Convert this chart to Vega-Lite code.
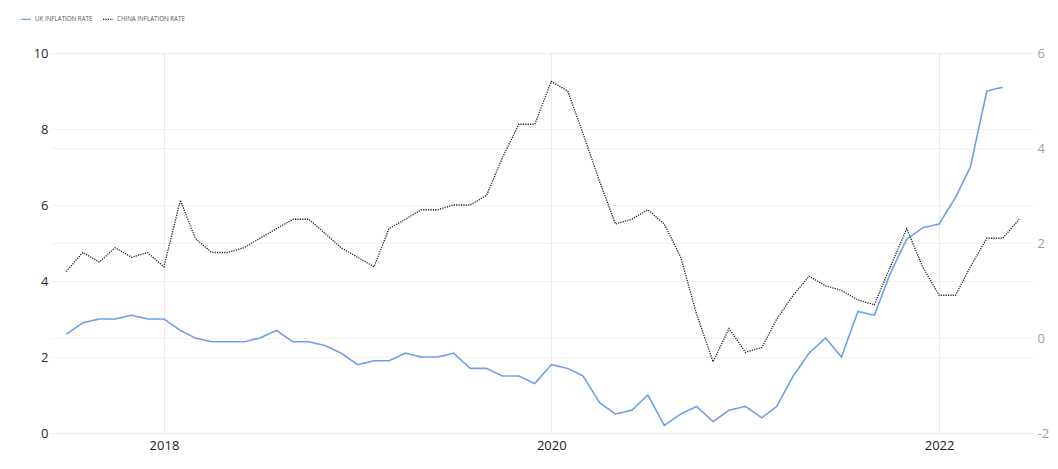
{
  "$schema": "https://vega.github.io/schema/vega-lite/v6.json",
  "width": 981,
  "height": 380,
  "autosize": {"type": "none"},
  "padding": {"left": 52, "top": 53, "right": 25, "bottom": 36},
  "background": "white",
  "config": {
    "view": {"stroke": null},
    "font": "Open Sans",
    "axis": {"domain": false, "ticks": false, "title": null, "labelFontSize": 13, "labelFont": "Open Sans"}
  },
  "data": {
    "values": [
      {"s": "UK", "d": "2017-07-01", "v": 2.6}, {"s": "UK", "d": "2017-08-01", "v": 2.9}, {"s": "UK", "d": "2017-09-01", "v": 3.0},
      {"s": "UK", "d": "2017-10-01", "v": 3.0}, {"s": "UK", "d": "2017-11-01", "v": 3.1}, {"s": "UK", "d": "2017-12-01", "v": 3.0},
      {"s": "UK", "d": "2018-01-01", "v": 3.0}, {"s": "UK", "d": "2018-02-01", "v": 2.7}, {"s": "UK", "d": "2018-03-01", "v": 2.5},
      {"s": "UK", "d": "2018-04-01", "v": 2.4}, {"s": "UK", "d": "2018-05-01", "v": 2.4}, {"s": "UK", "d": "2018-06-01", "v": 2.4},
      {"s": "UK", "d": "2018-07-01", "v": 2.5}, {"s": "UK", "d": "2018-08-01", "v": 2.7}, {"s": "UK", "d": "2018-09-01", "v": 2.4},
      {"s": "UK", "d": "2018-10-01", "v": 2.4}, {"s": "UK", "d": "2018-11-01", "v": 2.3}, {"s": "UK", "d": "2018-12-01", "v": 2.1},
      {"s": "UK", "d": "2019-01-01", "v": 1.8}, {"s": "UK", "d": "2019-02-01", "v": 1.9}, {"s": "UK", "d": "2019-03-01", "v": 1.9},
      {"s": "UK", "d": "2019-04-01", "v": 2.1}, {"s": "UK", "d": "2019-05-01", "v": 2.0}, {"s": "UK", "d": "2019-06-01", "v": 2.0},
      {"s": "UK", "d": "2019-07-01", "v": 2.1}, {"s": "UK", "d": "2019-08-01", "v": 1.7}, {"s": "UK", "d": "2019-09-01", "v": 1.7},
      {"s": "UK", "d": "2019-10-01", "v": 1.5}, {"s": "UK", "d": "2019-11-01", "v": 1.5}, {"s": "UK", "d": "2019-12-01", "v": 1.3},
      {"s": "UK", "d": "2020-01-01", "v": 1.8}, {"s": "UK", "d": "2020-02-01", "v": 1.7}, {"s": "UK", "d": "2020-03-01", "v": 1.5},
      {"s": "UK", "d": "2020-04-01", "v": 0.8}, {"s": "UK", "d": "2020-05-01", "v": 0.5}, {"s": "UK", "d": "2020-06-01", "v": 0.6},
      {"s": "UK", "d": "2020-07-01", "v": 1.0}, {"s": "UK", "d": "2020-08-01", "v": 0.2}, {"s": "UK", "d": "2020-09-01", "v": 0.5},
      {"s": "UK", "d": "2020-10-01", "v": 0.7}, {"s": "UK", "d": "2020-11-01", "v": 0.3}, {"s": "UK", "d": "2020-12-01", "v": 0.6},
      {"s": "UK", "d": "2021-01-01", "v": 0.7}, {"s": "UK", "d": "2021-02-01", "v": 0.4}, {"s": "UK", "d": "2021-03-01", "v": 0.7},
      {"s": "UK", "d": "2021-04-01", "v": 1.5}, {"s": "UK", "d": "2021-05-01", "v": 2.1}, {"s": "UK", "d": "2021-06-01", "v": 2.5},
      {"s": "UK", "d": "2021-07-01", "v": 2.0}, {"s": "UK", "d": "2021-08-01", "v": 3.2}, {"s": "UK", "d": "2021-09-01", "v": 3.1},
      {"s": "UK", "d": "2021-10-01", "v": 4.2}, {"s": "UK", "d": "2021-11-01", "v": 5.1}, {"s": "UK", "d": "2021-12-01", "v": 5.4},
      {"s": "UK", "d": "2022-01-01", "v": 5.5}, {"s": "UK", "d": "2022-02-01", "v": 6.2}, {"s": "UK", "d": "2022-03-01", "v": 7.0},
      {"s": "UK", "d": "2022-04-01", "v": 9.0}, {"s": "UK", "d": "2022-05-01", "v": 9.1},
      {"s": "CHINA", "d": "2017-07-01", "v": 1.4}, {"s": "CHINA", "d": "2017-08-01", "v": 1.8}, {"s": "CHINA", "d": "2017-09-01", "v": 1.6},
      {"s": "CHINA", "d": "2017-10-01", "v": 1.9}, {"s": "CHINA", "d": "2017-11-01", "v": 1.7}, {"s": "CHINA", "d": "2017-12-01", "v": 1.8},
      {"s": "CHINA", "d": "2018-01-01", "v": 1.5}, {"s": "CHINA", "d": "2018-02-01", "v": 2.9}, {"s": "CHINA", "d": "2018-03-01", "v": 2.1},
      {"s": "CHINA", "d": "2018-04-01", "v": 1.8}, {"s": "CHINA", "d": "2018-05-01", "v": 1.8}, {"s": "CHINA", "d": "2018-06-01", "v": 1.9},
      {"s": "CHINA", "d": "2018-07-01", "v": 2.1}, {"s": "CHINA", "d": "2018-08-01", "v": 2.3}, {"s": "CHINA", "d": "2018-09-01", "v": 2.5},
      {"s": "CHINA", "d": "2018-10-01", "v": 2.5}, {"s": "CHINA", "d": "2018-11-01", "v": 2.2}, {"s": "CHINA", "d": "2018-12-01", "v": 1.9},
      {"s": "CHINA", "d": "2019-01-01", "v": 1.7}, {"s": "CHINA", "d": "2019-02-01", "v": 1.5}, {"s": "CHINA", "d": "2019-03-01", "v": 2.3},
      {"s": "CHINA", "d": "2019-04-01", "v": 2.5}, {"s": "CHINA", "d": "2019-05-01", "v": 2.7}, {"s": "CHINA", "d": "2019-06-01", "v": 2.7},
      {"s": "CHINA", "d": "2019-07-01", "v": 2.8}, {"s": "CHINA", "d": "2019-08-01", "v": 2.8}, {"s": "CHINA", "d": "2019-09-01", "v": 3.0},
      {"s": "CHINA", "d": "2019-10-01", "v": 3.8}, {"s": "CHINA", "d": "2019-11-01", "v": 4.5}, {"s": "CHINA", "d": "2019-12-01", "v": 4.5},
      {"s": "CHINA", "d": "2020-01-01", "v": 5.4}, {"s": "CHINA", "d": "2020-02-01", "v": 5.2}, {"s": "CHINA", "d": "2020-03-01", "v": 4.3},
      {"s": "CHINA", "d": "2020-04-01", "v": 3.3}, {"s": "CHINA", "d": "2020-05-01", "v": 2.4}, {"s": "CHINA", "d": "2020-06-01", "v": 2.5},
      {"s": "CHINA", "d": "2020-07-01", "v": 2.7}, {"s": "CHINA", "d": "2020-08-01", "v": 2.4}, {"s": "CHINA", "d": "2020-09-01", "v": 1.7},
      {"s": "CHINA", "d": "2020-10-01", "v": 0.5}, {"s": "CHINA", "d": "2020-11-01", "v": -0.5}, {"s": "CHINA", "d": "2020-12-01", "v": 0.2},
      {"s": "CHINA", "d": "2021-01-01", "v": -0.3}, {"s": "CHINA", "d": "2021-02-01", "v": -0.2}, {"s": "CHINA", "d": "2021-03-01", "v": 0.4},
      {"s": "CHINA", "d": "2021-04-01", "v": 0.9}, {"s": "CHINA", "d": "2021-05-01", "v": 1.3}, {"s": "CHINA", "d": "2021-06-01", "v": 1.1},
      {"s": "CHINA", "d": "2021-07-01", "v": 1.0}, {"s": "CHINA", "d": "2021-08-01", "v": 0.8}, {"s": "CHINA", "d": "2021-09-01", "v": 0.7},
      {"s": "CHINA", "d": "2021-10-01", "v": 1.5}, {"s": "CHINA", "d": "2021-11-01", "v": 2.3}, {"s": "CHINA", "d": "2021-12-01", "v": 1.5},
      {"s": "CHINA", "d": "2022-01-01", "v": 0.9}, {"s": "CHINA", "d": "2022-02-01", "v": 0.9}, {"s": "CHINA", "d": "2022-03-01", "v": 1.5},
      {"s": "CHINA", "d": "2022-04-01", "v": 2.1}, {"s": "CHINA", "d": "2022-05-01", "v": 2.1}, {"s": "CHINA", "d": "2022-06-01", "v": 2.5}
    ]
  },
  "encoding": {
    "x": {
      "field": "d",
      "type": "temporal",
      "scale": {
        "type": "utc",
        "domain": [
          {"year": 2017, "month": 6, "date": 4, "utc": true},
          {"year": 2022, "month": 6, "date": 27, "utc": true}
        ]
      },
      "axis": {
        "values": [
          {"year": 2018, "month": 1, "date": 1, "utc": true},
          {"year": 2020, "month": 1, "date": 1, "utc": true},
          {"year": 2022, "month": 1, "date": 1, "utc": true}
        ],
        "format": "%Y",
        "labelColor": "#1a1a1a",
        "labelPadding": 6,
        "grid": true,
        "gridColor": "#ececec",
        "gridWidth": 1
      }
    },
    "color": {
      "field": "s",
      "type": "nominal",
      "scale": {"domain": ["UK", "CHINA"], "range": ["#6f9fec", "#1a1a1a"]},
      "legend": {
        "title": null,
        "orient": "none",
        "legendX": -32,
        "legendY": -40,
        "direction": "horizontal",
        "symbolType": "stroke",
        "symbolSize": 100,
        "symbolStrokeWidth": 1.3,
        "labelFontSize": 6.2,
        "labelColor": "#555555",
        "labelExpr": "datum.label + ' INFLATION RATE'",
        "columnPadding": 7,
        "labelOffset": 3
      }
    },
    "strokeDash": {
      "field": "s",
      "type": "nominal",
      "scale": {"domain": ["UK", "CHINA"], "range": [[1, 0], [1.2, 1.2]]},
      "legend": {
        "title": null,
        "orient": "none",
        "legendX": -32,
        "legendY": -40,
        "direction": "horizontal",
        "symbolType": "stroke",
        "symbolSize": 100,
        "symbolStrokeWidth": 1.3,
        "labelFontSize": 6.2,
        "labelColor": "#555555",
        "labelExpr": "datum.label + ' INFLATION RATE'",
        "columnPadding": 7,
        "labelOffset": 3
      }
    }
  },
  "layer": [
    {
      "transform": [{"filter": "datum.s === 'UK'"}],
      "mark": {"type": "line", "strokeWidth": 1.6, "interpolate": "linear"},
      "encoding": {
        "y": {
          "field": "v",
          "type": "quantitative",
          "scale": {"domain": [0, 10], "nice": false, "zero": false},
          "axis": {
            "orient": "left",
            "values": [0, 2, 4, 6, 8, 10],
            "labelColor": "#2a2a2a",
            "labelPadding": 4,
            "grid": true,
            "gridColor": "#e4e4e4",
            "gridDash": [1, 1]
          }
        }
      }
    },
    {
      "transform": [{"filter": "datum.s === 'CHINA'"}],
      "mark": {"type": "line", "strokeWidth": 1.3, "interpolate": "linear"},
      "encoding": {
        "y": {
          "field": "v",
          "type": "quantitative",
          "scale": {"domain": [-2, 6], "nice": false, "zero": false},
          "axis": {
            "orient": "right",
            "values": [-2, 0, 2, 4, 6],
            "labelExpr": "replace(datum.label, '\u2212', '-')",
            "labelColor": "#a0a0a0",
            "labelPadding": 4,
            "grid": true,
            "gridColor": "#e4e4e4",
            "gridDash": [1, 1]
          }
        }
      }
    }
  ],
  "resolve": {"scale": {"y": "independent"}, "axis": {"y": "independent"}}
}
